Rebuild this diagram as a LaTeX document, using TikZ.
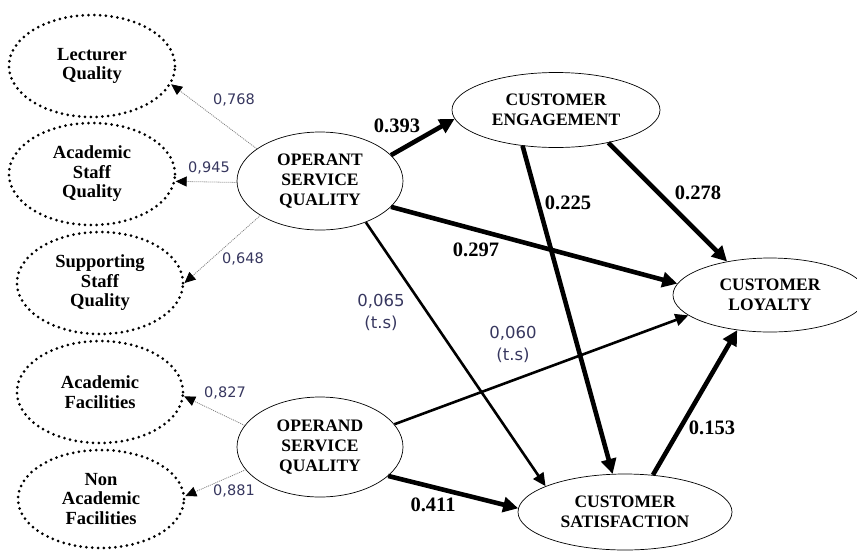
\documentclass[tikz,border=0pt]{standalone}
\usepackage{fontspec}
\setmainfont{Liberation Serif}
\newfontfamily\lblfont{DejaVu Sans}
\usetikzlibrary{arrows.meta,shapes.geometric}
\definecolor{lblcol}{RGB}{55,55,95}
\begin{document}
\begin{tikzpicture}[x=1pt,y=-1pt,
  lat/.style={ellipse,draw,line width=0.7pt,inner sep=0pt,align=center,
    font=\bfseries\fontsize{17.5}{20}\selectfont},
  ind/.style={ellipse,draw,line width=3pt,dash pattern=on 0pt off 5.8pt,line cap=round,
    minimum width=166pt,minimum height=102pt,inner sep=0pt,align=center,
    font=\bfseries\fontsize{18.5}{19.5}\selectfont},
  load/.style={draw=gray,line width=0.8pt,dash pattern=on 1pt off 1pt,
    -{Triangle[length=11pt,width=10pt,color=black]}},
  strong/.style={line width=4.6pt,-{Triangle[length=15pt,width=15pt]}},
  weak/.style={line width=2.6pt,-{Triangle[length=13pt,width=12pt]}},
  ldlab/.style={text=lblcol,font=\lblfont\fontsize{14.5}{16}\selectfont,inner sep=0pt},
  tslab/.style={text=lblcol,font=\lblfont\fontsize{16.5}{22}\selectfont,inner sep=0pt,align=center},
  blab/.style={font=\bfseries\fontsize{20.5}{22}\selectfont,inner sep=0pt}]
\useasboundingbox (0,0) rectangle (857,550);
% indicator ellipses
\node[ind] (lq) at (92,66) {Lecturer\\Quality};
\node[ind] (asq) at (92,174) {Academic\\Staff\\Quality};
\node[ind] (ssq) at (100,283) {Supporting\\Staff\\Quality};
\node[ind] (af) at (100,392) {Academic\\Facilities};
\node[ind,minimum height=98pt] (naf) at (101,499) {Non\\Academic\\Facilities};
% latent constructs
\node[lat,minimum width=166pt,minimum height=98pt] (osq) at (320,181) {OPERANT\\SERVICE\\QUALITY};
\node[lat,minimum width=166pt,minimum height=100pt] (odq) at (320,447) {OPERAND\\SERVICE\\QUALITY};
\node[lat,minimum width=208pt,minimum height=75pt] (eng) at (556,110) {CUSTOMER\\ENGAGEMENT};
\node[lat,minimum width=194pt,minimum height=74pt] (loy) at (770,295) {CUSTOMER\\LOYALTY};
\node[lat,minimum width=214pt,minimum height=76pt] (sat) at (625,512) {CUSTOMER\\SATISFACTION};
% loadings
\draw[load] (osq.153) -- (lq.-13);
\draw[load] (osq.181) -- (asq.-5);
\draw[load] (osq.210) -- (ssq.0);
\draw[load] (odq.164) -- (af.-3);
\draw[load] (odq.197) -- (naf.2);
% structural paths
\draw[strong] (osq.20) -- (eng.185);
\draw[strong] (osq.-20) -- (loy.173);
\draw[weak] (osq.-42) -- (sat.162);
\draw[weak] (odq.17) -- (loy.194);
\draw[strong] (odq.-23) -- (sat.178);
\draw[strong] (eng.-133) -- (sat.108);
\draw[strong] (eng.-32) -- (loy.142);
\draw[strong] (sat.53) -- (loy.227);
% labels
\node[ldlab] (t768) at (234,100) {0,768};
\node[ldlab] (t945) at (209,168) {0,945};
\node[ldlab] (t648) at (243,259) {0,648};
\node[ldlab] (t827) at (225,393) {0,827};
\node[ldlab] (t881) at (234,491) {0,881};
\node[tslab] (t065) at (381,312) {0,065\\(t.s)};
\node[tslab] (t060) at (513,344) {0,060\\(t.s)};
\node[blab] (t393) at (397,126) {0.393};
\node[blab] (t297) at (476,250) {0.297};
\node[blab] (t225) at (568,203) {0.225};
\node[blab] (t278) at (698,193) {0.278};
\node[blab] (t153) at (712,428) {0.153};
\node[blab] (t411) at (433,505) {0.411};
\end{tikzpicture}
\end{document}
